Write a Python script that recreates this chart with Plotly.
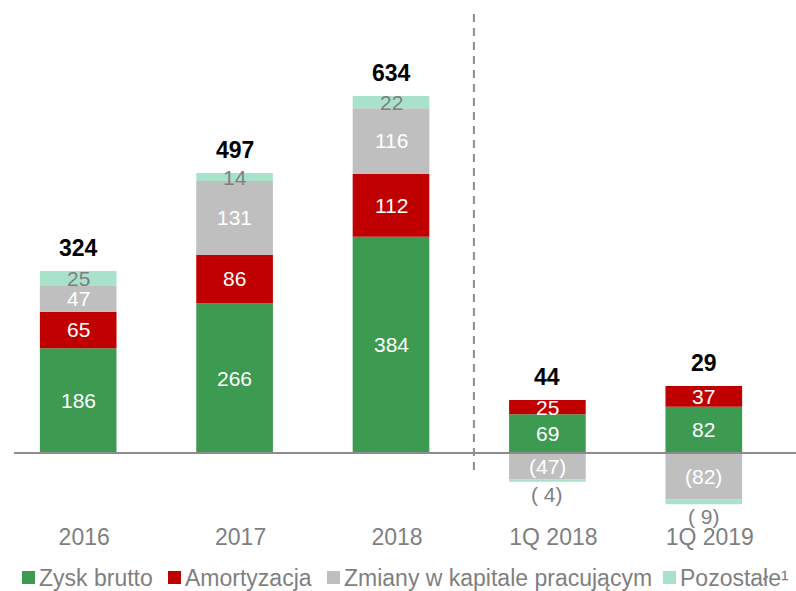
import plotly.graph_objects as go

categories = ["2016", "2017", "2018", "1Q 2018", "1Q 2019"]
zysk_brutto = [186, 266, 384, 69, 82]
amortyzacja = [65, 86, 112, 25, 37]
zmiany_kapitalu = [47, 131, 116, -47, -82]
pozostale = [25, 14, 22, -4, -9]
razem = [324, 497, 634, 44, 29]

series = [
    ("Zysk brutto", zysk_brutto, "#3d9a51", "white"),
    ("Amortyzacja", amortyzacja, "#c00000", "white"),
    ("Zmiany w kapitale pracującym", zmiany_kapitalu, "#bfbfbf", "white"),
    ("Pozostałe¹", pozostale, "#a9e2cb", "#7f7f7f"),
]

FONT = "Liberation Sans, Arial, sans-serif"
W, H = 796, 591


def fmt(v):
    # negatives shown in brackets, single digits padded like the source deck
    return f"({abs(v):>2})" if v < 0 else str(v)


fig = go.Figure()
annotations = []
shapes = []
pos_base = [0] * len(categories)
neg_base = [0] * len(categories)

for name, values, color, text_color in series:
    fig.add_trace(go.Bar(
        x=categories, y=values, name=name,
        marker=dict(color=color, line=dict(width=0)),
        width=0.49, showlegend=False, hoverinfo="skip",
    ))
    last = name == series[-1][0]
    for i, v in enumerate(values):
        if v >= 0:
            lo, hi = pos_base[i], pos_base[i] + v
            pos_base[i] = hi
        else:
            hi, lo = neg_base[i], neg_base[i] + v
            neg_base[i] = lo
        if last and v < 0:
            # small negative remainder: label sits under the bar
            annotations.append(dict(
                x=i, y=lo, text=fmt(v), showarrow=False,
                yanchor="top", yshift=1,
                font=dict(family=FONT, size=21, color="#7f7f7f"),
            ))
        else:
            annotations.append(dict(
                x=i, y=(lo + hi) / 2, text=fmt(v), showarrow=False,
                font=dict(family=FONT, size=21, color=text_color),
            ))

for i, total in enumerate(razem):
    annotations.append(dict(
        x=i, y=pos_base[i], text=f"<b>{total}</b>", showarrow=False,
        yanchor="bottom", yshift=8,
        font=dict(family=FONT, size=23, color="black"),
    ))

# legend drawn by hand so the swatch sits tight against its label
legend_x = [22, 168, 327, 663]
for (name, _, color, _), lx in zip(series, legend_x):
    shapes.append(dict(
        type="rect", xref="paper", yref="paper",
        x0=lx / 782, x1=(lx + 13) / 782,
        y0=(515 - 584) / 505, y1=(515 - 571) / 505,
        fillcolor=color, line=dict(width=0),
    ))
    annotations.append(dict(
        xref="paper", yref="paper", x=(lx + 15) / 782, y=(515 - 578) / 505,
        xanchor="left", yanchor="middle", text=name, showarrow=False,
        font=dict(family=FONT, size=23, color="#7f7f7f"),
    ))

shapes += [
    # zero baseline
    dict(type="line", xref="paper", yref="y", x0=0.018, x1=1.02, y0=0, y1=0,
         line=dict(color="#8c8c8c", width=2), layer="above"),
    # separator between years and quarters
    dict(type="line", xref="x", yref="y", x0=2.53, x1=2.53, y0=-30, y1=787,
         line=dict(color="#8c8c8c", width=2, dash="8px,6px")),
]

fig.update_layout(
    barmode="relative",
    width=W, height=H,
    margin=dict(l=0, r=14, t=10, b=76),
    plot_bgcolor="white", paper_bgcolor="white",
    annotations=annotations,
    shapes=shapes,
    showlegend=False,
)

fig.update_xaxes(
    type="category", range=[-0.5, 4.5], automargin=False,
    showgrid=False, showline=False, zeroline=False, ticks="",
    ticklabelstandoff=6, ticklabelshift=6,
    tickfont=dict(family=FONT, size=23, color="#7f7f7f"),
)
fig.update_yaxes(range=[-110.1, 786.6], visible=False, showgrid=False, zeroline=False)

# page body has a default 8px margin; drop it so the figure fills the window
fig.write_html(
    "out.html",
    config={"displayModeBar": False},
    post_script="document.body.style.margin='0';",
)
